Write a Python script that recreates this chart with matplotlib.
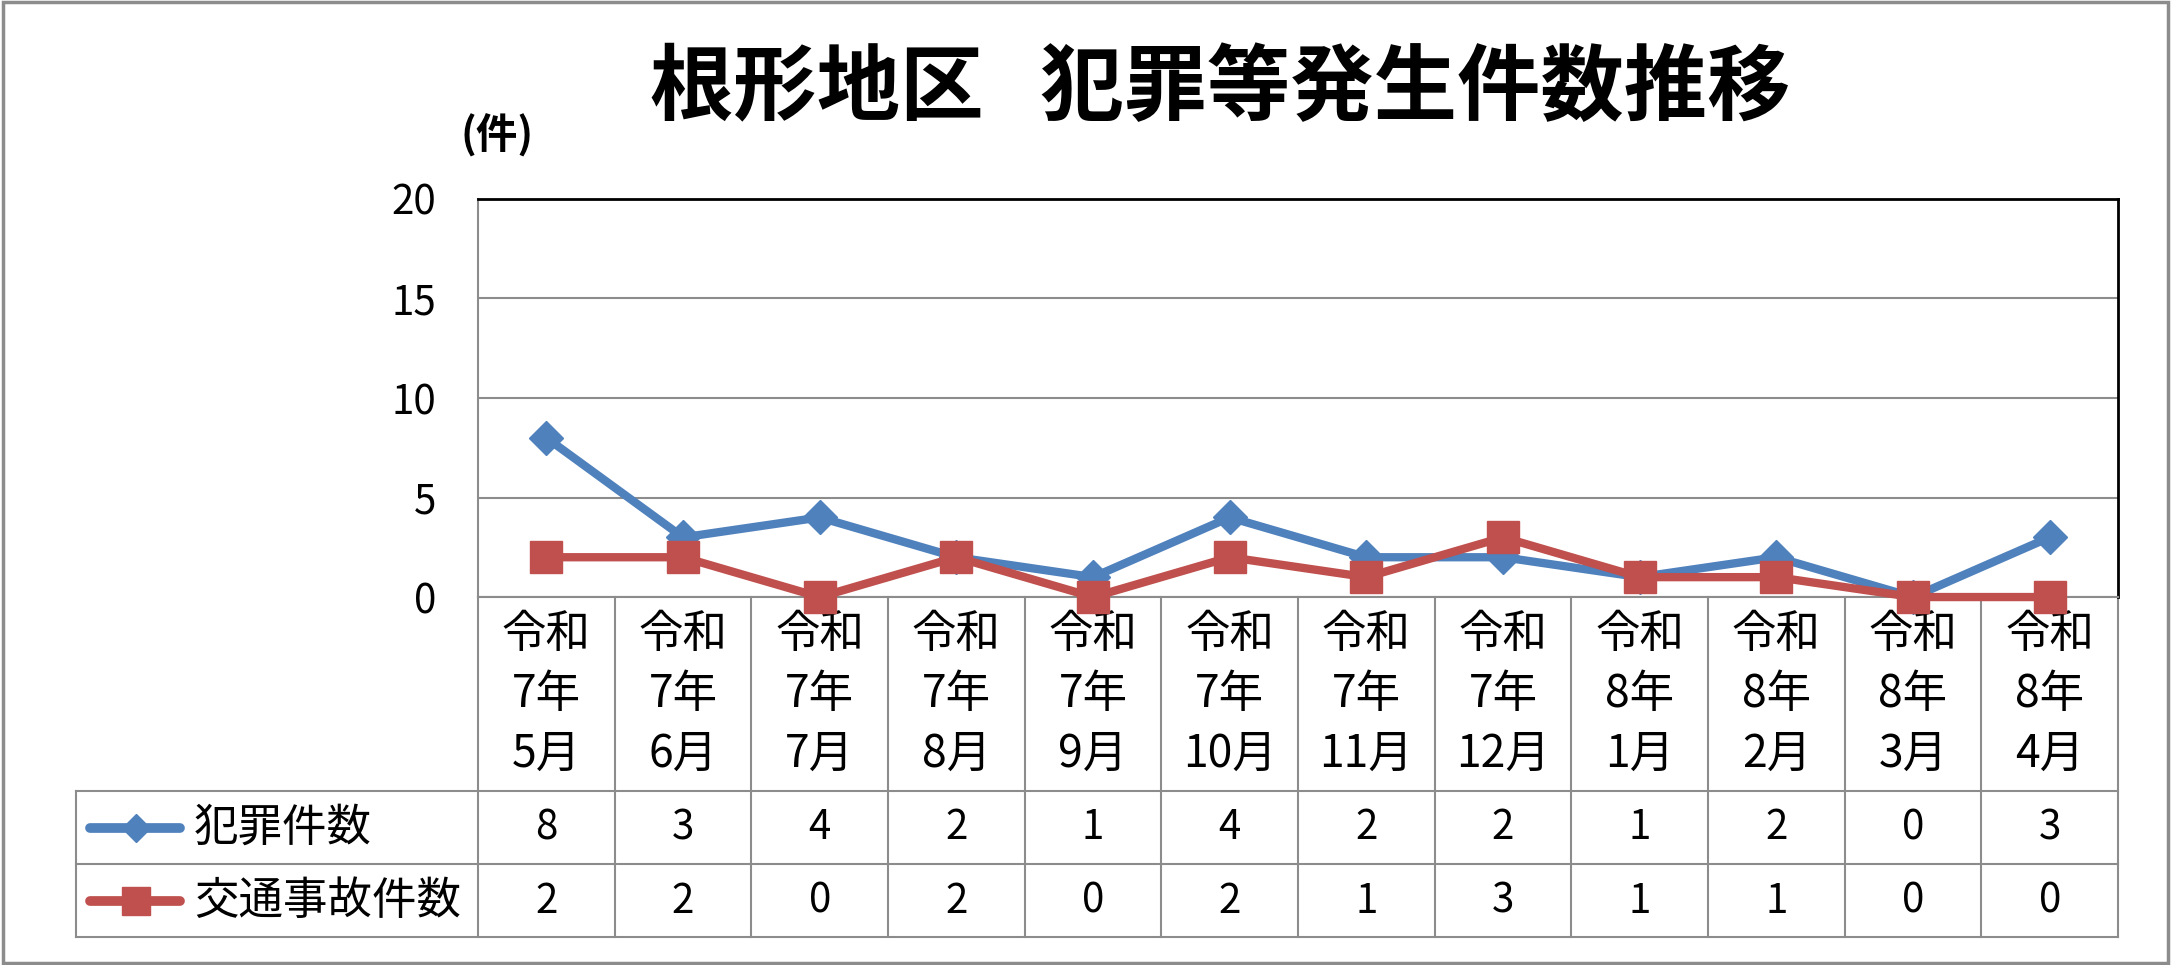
import matplotlib
matplotlib.use('Agg')
import matplotlib.pyplot as plt
from matplotlib.transforms import blended_transform_factory
from matplotlib.patches import Rectangle

plt.rcParams['font.family'] = ['Noto Sans CJK JP', 'DejaVu Sans']

title = '根形地区   犯罪等発生件数推移'
unit_label = '(件)'
months = ['令和\n7年\n5月', '令和\n7年\n6月', '令和\n7年\n7月', '令和\n7年\n8月',
          '令和\n7年\n9月', '令和\n7年\n10月', '令和\n7年\n11月', '令和\n7年\n12月',
          '令和\n8年\n1月', '令和\n8年\n2月', '令和\n8年\n3月', '令和\n8年\n4月']
crime = [8, 3, 4, 2, 1, 4, 2, 2, 1, 2, 0, 3]
traffic = [2, 2, 0, 2, 0, 2, 1, 3, 1, 1, 0, 0]
series_names = ['犯罪件数', '交通事故件数']
yticks = [0, 5, 10, 15, 20]

grid_c = '#8c8c8c'
blue = '#4f81bd'
red = '#c0504d'

fig = plt.figure(figsize=(21.71, 9.65), dpi=100)
# outer frame
fig.patches.append(Rectangle((0.0015, 0.002), 0.997, 0.996, transform=fig.transFigure,
                             fill=False, ec=grid_c, lw=2.5))

ax = fig.add_axes([0.2202, 0.3813, 0.7554, 0.4125])
n = len(months)
x = list(range(n))
ax.set_xlim(-0.5, n - 0.5)
ax.set_ylim(0, 20)
ax.set_yticks(yticks)
ax.set_xticks([])
ax.tick_params(axis='y', length=0, pad=30, labelsize=29)
ax.yaxis.grid(True, color=grid_c, lw=1.5)
ax.set_axisbelow(True)
for s in ['top', 'right']:
    ax.spines[s].set_color('black')
    ax.spines[s].set_linewidth(2)
for s in ['left', 'bottom']:
    ax.spines[s].set_color(grid_c)
    ax.spines[s].set_linewidth(1.5)

ax.plot(x, crime, color=blue, lw=6, marker='D', ms=17, clip_on=False, zorder=3)
ax.plot(x, traffic, color=red, lw=6, marker='s', ms=23, clip_on=False, zorder=4)

# data table below the chart
tr = blended_transform_factory(ax.transData, ax.transAxes)
row_lines = [-0.487, -0.671, -0.854]
row_centers = [-0.580, -0.764]
left_edge = -3.44
for yy in row_lines:
    ax.plot([left_edge, n - 0.5], [yy, yy], transform=tr, color=grid_c, lw=1.5, clip_on=False)
ax.plot([left_edge, left_edge], [row_lines[0], row_lines[-1]], transform=tr,
        color=grid_c, lw=1.5, clip_on=False)
for b in range(n + 1):
    ax.plot([b - 0.5, b - 0.5], [0, row_lines[-1]], transform=tr, color=grid_c, lw=1.5, clip_on=False)

for i, m in enumerate(months):
    ax.text(i, -0.035, m, transform=tr, ha='center', va='top', fontsize=32, linespacing=1.39)

for vals, yc in zip([crime, traffic], row_centers):
    for i, v in enumerate(vals):
        ax.text(i, yc, str(v), transform=tr, ha='center', va='center', fontsize=29)

# legend keys in the table
for name, color, mk, ms, yc in zip(series_names, [blue, red], ['D', 's'], [14, 20], row_centers):
    ax.plot([-3.34, -2.68], [yc, yc], transform=tr, color=color, lw=7,
            solid_capstyle='round', clip_on=False)
    ax.plot([-3.0], [yc], transform=tr, color=color, marker=mk, ms=ms, clip_on=False)
    ax.text(-2.58, yc, name, transform=tr, ha='left', va='center', fontsize=32)

fig.text(0.562, 0.907, title, ha='center', va='center', fontsize=60, fontweight='bold')
fig.text(0.229, 0.859, unit_label, ha='center', va='center', fontsize=30, fontweight='bold')

fig.savefig('out.png', dpi=100)
